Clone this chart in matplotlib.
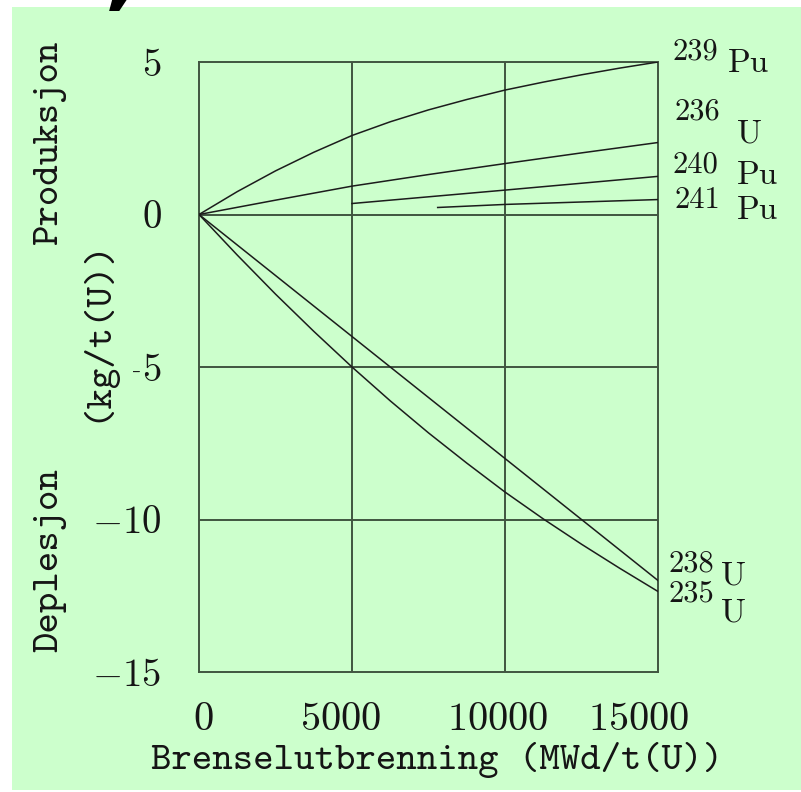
import matplotlib
matplotlib.use("Agg")
import matplotlib.pyplot as plt
from matplotlib.patches import Rectangle
from matplotlib.transforms import ScaledTranslation

# Burnup grid (MWd/t(U)) and nuclide inventories (kg/t(U))
burnup = [0, 1250, 2500, 3750, 5000, 6250, 7500, 8750, 10000, 11250, 12500, 13750, 15000]
pu239 = [0, 0.75, 1.43, 2.04, 2.59, 3.04, 3.43, 3.77, 4.08, 4.34, 4.58, 4.80, 5.0]
u235 = [0, -1.33, -2.61, -3.83, -5.0, -6.11, -7.16, -8.15, -9.10, -9.98, -10.81, -11.60, -12.36]

burnup_coarse = [0, 2500, 5000, 7500, 10000, 12500, 15000]
u236 = [0, 0.47, 0.93, 1.31, 1.67, 2.02, 2.36]
u238 = [0, -2.0, -4.0, -6.0, -8.0, -10.0, -12.0]

burnup_pu240 = [5000, 10000, 15000]
pu240 = [0.36, 0.80, 1.25]
burnup_pu241 = [7800, 10000, 15000]
pu241 = [0.23, 0.33, 0.49]

x_ticks = [0, 5000, 10000, 15000]
x_ticklabels = ["$0$", "$5000$", "$10000$", "$15000$"]
y_ticks = [5, 0, -5, -10, -15]
y_ticklabels = ["$5$", "$0$", "$-5$", "$-10$", "$-15$"]

plt.rcParams["font.family"] = "cmr10"
plt.rcParams["mathtext.fontset"] = "cm"
plt.rcParams["axes.unicode_minus"] = False

W, H = 801, 792
GREEN = "#ccffcc"
GRID = "#405540"
INK = "#1c1c1c"
TXT = "#151515"


def fx(px):
    return px / W


def fy(py):
    return 1 - py / H


fig = plt.figure(figsize=(W / 100, H / 100), dpi=100, facecolor="white")
fig.patches.append(Rectangle((fx(12), fy(790)), fx(801) - fx(12), fy(7) - fy(790),
                             transform=fig.transFigure, facecolor=GREEN,
                             edgecolor="none", zorder=-10))

ax = fig.add_axes([fx(199), fy(672), fx(658) - fx(199), fy(62) - fy(672)])
ax.set_facecolor(GREEN)
ax.set_xlim(0, 15000)
ax.set_ylim(-15, 5)

for s in ax.spines.values():
    s.set_color(GRID)
    s.set_linewidth(1.4)

for xv in x_ticks[1:-1]:
    ax.axvline(xv, color=GRID, lw=1.4, zorder=1)
for yv in [0, -5, -10]:
    ax.axhline(yv, color=GRID, lw=1.4, zorder=1)

curve_kw = dict(color=INK, lw=1.1, zorder=3)
ax.plot(burnup, pu239, **curve_kw)
ax.plot(burnup_coarse, u236, **curve_kw)
ax.plot(burnup_pu240, pu240, **curve_kw)
ax.plot(burnup_pu241, pu241, **curve_kw)
ax.plot(burnup_coarse, u238, **curve_kw)
ax.plot(burnup, u235, **curve_kw)

ax.set_xticks(x_ticks, x_ticklabels)
ax.set_yticks(y_ticks, y_ticklabels)
ax.tick_params(length=0, labelsize=29, colors=TXT)
ax.tick_params(axis="y", labelsize=28, pad=27)
ax.tick_params(axis="x", pad=22)
for lab, dx in zip(ax.get_xticklabels(), [4, -11, -7, -19]):
    lab.set_transform(lab.get_transform() + ScaledTranslation(dx / 100, 0, fig.dpi_scale_trans))

# Nuclide labels at the curve ends: (mass number, symbol, y-end, offsets in px)
labels = [
    ("239", "Pu", 5.0, (14, 2), (70, -10)),
    ("236", "U", 2.36, (17, 23), (79, 0)),
    ("240", "Pu", 1.25, (14, 4), (79, -8)),
    ("241", "Pu", 0.49, (17, -8), (79, -19)),
    ("238", "U", -12.0, (10, 9), (63, -4)),
    ("235", "U", -12.36, (10, -10), (63, -30)),
]
for mass, sym, yend, off_m, off_s in labels:
    ax.annotate(mass, xy=(15000, yend), xytext=off_m, textcoords="offset pixels",
                fontsize=22, ha="left", va="baseline", annotation_clip=False, color=TXT)
    ax.annotate(sym, xy=(15000, yend), xytext=off_s, textcoords="offset pixels",
                fontsize=24, ha="left", va="baseline", annotation_clip=False, color=TXT)

label_kw = dict(fontsize=28, family="cmtt10", ha="center", va="center", color=TXT)
fig.text(fx(96), fy(330), "(kg/t(U))", rotation=90,
         bbox=dict(facecolor=GREEN, edgecolor="none", pad=14), **label_kw)
fig.text(fx(437), fy(760), "Brenselutbrenning (MWd/t(U))", **label_kw)
fig.text(fx(50), fy(143), "Produksjon", rotation=90, **label_kw)
fig.text(fx(50), fy(560), "Deplesjon", rotation=90, **label_kw)

# Tail of the heading text above the panel
fig.text(fx(104), fy(17), ",", fontsize=70, fontweight="bold",
         family="DejaVu Sans", ha="left", va="bottom", color="black", zorder=20)

fig.savefig("out.png", dpi=100, facecolor="white")
